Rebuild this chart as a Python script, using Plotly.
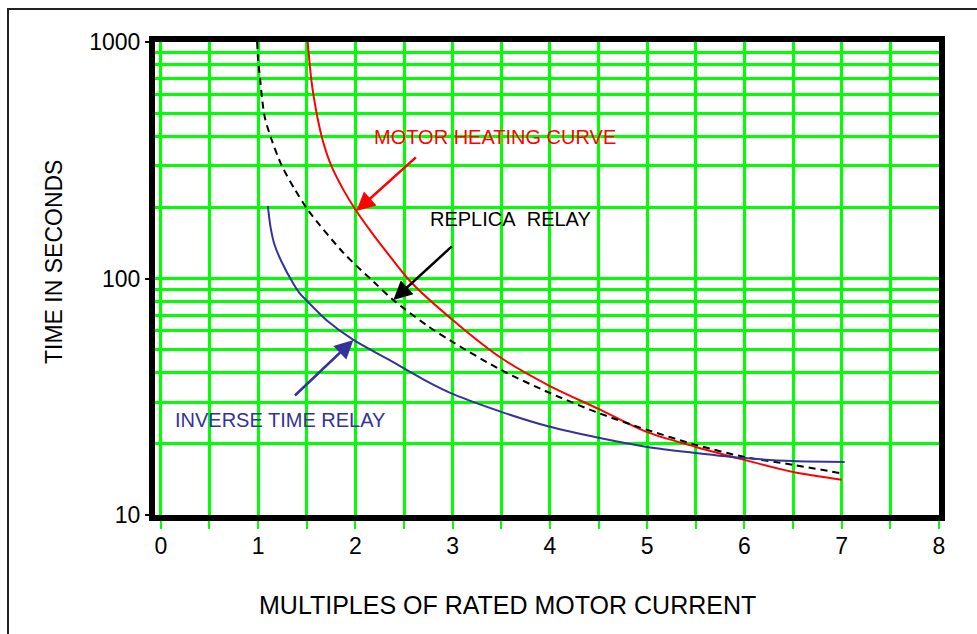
import numpy as np
import plotly.graph_objects as go

# ---- data ----
MOTOR_X = [1.51, 1.545, 1.574, 1.611, 1.663, 1.749, 1.877, 2.01, 2.17, 2.33, 2.58, 3.0, 3.5, 4.0, 4.5, 5.0, 5.5, 6.0, 6.5, 7.0]
MOTOR_Y = [1000, 704, 580, 477, 385, 302, 237, 193, 156, 128, 95.7, 66.8, 46.1, 35.1, 28.1, 22.4, 19.4, 17.1, 15.2, 14.1]

REPLICA_X = [0.99, 1.00, 1.02, 1.04, 1.07, 1.14, 1.24, 1.38, 1.52, 1.88, 2.19, 2.39, 2.73, 3.0, 3.5, 4.0, 4.5, 5.0, 5.5, 6.0, 6.5, 7.0]
REPLICA_Y = [1000, 839, 704, 580, 477, 385, 302, 237, 193, 128, 96.6, 81.1, 63.6, 53.9, 41.0, 32.8, 27.0, 22.9, 19.8, 17.6, 16.3, 15.0]

INVERSE_X = [1.10, 1.13, 1.17, 1.24, 1.36, 1.42, 1.52, 1.71, 1.98, 2.33, 2.77, 3.0, 3.5, 4.0, 4.5, 5.0, 5.5, 6.0, 6.5, 7.03]
INVERSE_Y = [203, 163, 138.5, 118, 95.4, 87.4, 79.0, 66.3, 55.0, 45.7, 36.1, 32.5, 27.3, 23.6, 21.2, 19.4, 18.3, 17.4, 16.9, 16.75]

X_TICKS = [0, 1, 2, 3, 4, 5, 6, 7, 8]
Y_TICKS = [10, 100, 1000]
Y_MINOR = [20, 30, 40, 50, 60, 70, 80, 90, 200, 300, 400, 500, 600, 700, 800, 900]

RED = "#FF0000"
BLUE = "#333399"
GREEN = "#00FF00"
FONT = "Arial, Liberation Sans, sans-serif"

fig = go.Figure()
fig.add_trace(go.Scatter(x=MOTOR_X, y=MOTOR_Y, mode="lines", name="MOTOR HEATING CURVE",
                         line=dict(color=RED, width=2, shape="spline", smoothing=0.8)))
fig.add_trace(go.Scatter(x=REPLICA_X, y=REPLICA_Y, mode="lines", name="REPLICA RELAY",
                         line=dict(color="black", width=2, dash="7px,5px", shape="spline", smoothing=0.8)))
fig.add_trace(go.Scatter(x=INVERSE_X, y=INVERSE_Y, mode="lines", name="INVERSE TIME RELAY",
                         line=dict(color=BLUE, width=2, shape="spline", smoothing=0.8)))

# arrows pointing at curve points
arrows = [
    (MOTOR_X[7], MOTOR_Y[7], 61, -55, RED),
    (REPLICA_X[11], REPLICA_Y[11], 60, -55, "black"),
    (INVERSE_X[8], INVERSE_Y[8], -60, 57, BLUE),
]
for x, y, ax, ay, c in arrows:
    fig.add_annotation(x=x, y=np.log10(y), xref="x", yref="y", text="", showarrow=True,
                       ax=ax, ay=ay, arrowhead=2, arrowsize=1.5, arrowwidth=2.5,
                       arrowcolor=c, standoff=0)

labels = [
    ("MOTOR HEATING CURVE", 3.44, 2.598, RED),
    ("REPLICA\u00a0 RELAY", 3.59, 2.252, "black"),
    ("INVERSE TIME RELAY", 1.225, 1.402, BLUE),
]
for t, x, y, c in labels:
    fig.add_annotation(x=x, y=y, xref="x", yref="y", text=t, showarrow=False,
                       font=dict(family=FONT, size=20, color=c))

# axis titles (placed as in the reference)
fig.add_annotation(text="MULTIPLES OF RATED MOTOR CURRENT", xref="paper", yref="paper",
                   x=(507.5 - 155) / 784, y=(515 - 605) / 473, xanchor="center", yanchor="middle",
                   showarrow=False, font=dict(family=FONT, size=25, color="black"))
fig.add_annotation(text="TIME IN SECONDS", xref="paper", yref="paper", textangle=-90,
                   x=(54 - 155) / 784, y=(515 - 262) / 473, xanchor="center", yanchor="middle",
                   showarrow=False, font=dict(family=FONT, size=23, color="black"))

# outer frame (partly outside the window, as in the reference)
fig.add_shape(type="rect", xref="paper", yref="paper",
              x0=(8 - 155) / 784, x1=(1000 - 155) / 784,
              y0=(515 - 660) / 473, y1=(515 - 9) / 473,
              line=dict(color="#222222", width=2), layer="below")

fig.update_layout(
    width=977, height=634,
    margin=dict(l=155, r=38, t=42, b=119, autoexpand=False),
    paper_bgcolor="white", plot_bgcolor="white",
    showlegend=False,
    font=dict(family=FONT, color="black"),
)
fig.update_xaxes(
    range=[-0.06, 8], tickvals=X_TICKS, ticktext=[str(v) for v in X_TICKS],
    showgrid=True, gridcolor=GREEN, gridwidth=2.5,
    minor=dict(dtick=0.5, tick0=0, showgrid=True, gridcolor=GREEN, gridwidth=2.5,
               ticks="outside", ticklen=8, tickcolor=GREEN, tickwidth=2),
    ticks="outside", ticklen=8, tickcolor=GREEN, tickwidth=2,
    ticklabelstandoff=-3,
    showline=True, linecolor="black", linewidth=6, mirror=True,
    zeroline=False, automargin=False,
    tickfont=dict(size=23, family=FONT),
)
fig.update_yaxes(
    type="log", range=[1, 3], tickvals=Y_TICKS, ticktext=[str(v) for v in Y_TICKS],
    showgrid=True, gridcolor=GREEN, gridwidth=2.5,
    minor=dict(tickvals=Y_MINOR, showgrid=True, gridcolor=GREEN, gridwidth=2.5),
    ticks="outside", ticklen=4, tickcolor="black", tickwidth=2,
    ticklabelstandoff=0,
    showline=True, linecolor="black", linewidth=6, mirror=True,
    zeroline=False, automargin=False,
    tickfont=dict(size=23, family=FONT),
)

fig.write_html("out.html")
